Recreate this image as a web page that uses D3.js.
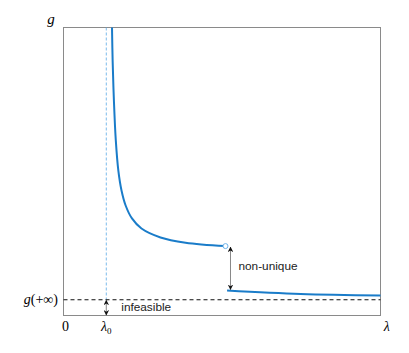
<!DOCTYPE html>
<html><head><meta charset="utf-8">
<script src="https://cdn.jsdelivr.net/npm/d3@7"></script>
<style>body{margin:0;background:#fff}svg{display:block}</style>
</head><body>
<script>
// Data (normalized units: x in [0,1] across plot, y in [0,1] up plot)
const branch1X = [0.153, 0.155, 0.159, 0.165, 0.173, 0.183, 0.196, 0.216, 0.246, 0.306, 0.385, 0.511];
const branch1Y = [1.000, 0.885, 0.747, 0.608, 0.503, 0.434, 0.382, 0.337, 0.302, 0.271, 0.253, 0.241];
const branch2X = [0.516, 0.748, 1.000];
const branch2Y = [0.0868, 0.0747, 0.0694];
const gInf = 0.0545;
const lambda0 = 0.135;
const xTickLabels = ["0", "λ0", "λ"];

const W = 409, H = 353;
const m = {left: 63.5, top: 27.5, right: 380.5, bottom: 315.5};
const x = d3.scaleLinear().domain([0, 1]).range([m.left, m.right]);
const y = d3.scaleLinear().domain([0, 1]).range([m.bottom, m.top]);

const svg = d3.select("body").append("svg").attr("width", W).attr("height", H);
const defs = svg.append("defs");
defs.append("marker").attr("id", "ah").attr("viewBox", "0 0 10 10")
  .attr("refX", 9).attr("refY", 5).attr("markerWidth", 5.5).attr("markerHeight", 5.5)
  .attr("orient", "auto-start-reverse").attr("markerUnits", "userSpaceOnUse")
  .append("path").attr("d", "M0,0 L10,5 L0,10 L3,5 Z").attr("fill", "#111");

// frame
svg.append("rect").attr("x", m.left).attr("y", m.top)
  .attr("width", m.right - m.left).attr("height", m.bottom - m.top)
  .attr("fill", "none").attr("stroke", "#8a8a8a").attr("stroke-width", 1);

// lambda0 vertical dashed
svg.append("line").attr("x1", x(lambda0)).attr("x2", x(lambda0))
  .attr("y1", y(1)).attr("y2", y(gInf))
  .attr("stroke", "#5aa9e6").attr("stroke-width", 0.8).attr("stroke-dasharray", "3,2");

// g(+inf) dashed
svg.append("line").attr("x1", x(0)).attr("x2", x(1))
  .attr("y1", y(gInf)).attr("y2", y(gInf))
  .attr("stroke", "#111").attr("stroke-width", 1.1).attr("stroke-dasharray", "4,3");

const curve = d3.line().x(d => x(d[0])).y(d => y(d[1])).curve(d3.curveCatmullRom.alpha(0.5));
const b1 = branch1X.map((v, i) => [v, branch1Y[i]]);
const b2 = branch2X.map((v, i) => [v, branch2Y[i]]);
svg.append("path").attr("d", curve(b1))
  .attr("fill", "none").attr("stroke", "#1a7cc9").attr("stroke-width", 2);
svg.append("path").attr("d", curve(b2))
  .attr("fill", "none").attr("stroke", "#1a7cc9").attr("stroke-width", 2);

// open circle at end of branch 1
const last = b1[b1.length - 1];
svg.append("circle").attr("cx", x(last[0])).attr("cy", y(last[1])).attr("r", 2.5)
  .attr("fill", "#fff").attr("stroke", "#6fb3ea").attr("stroke-width", 1);

// non-unique arrow
const ax = x(last[0]) + 5;
svg.append("line").attr("x1", ax).attr("x2", ax)
  .attr("y1", y(last[1]) + 1).attr("y2", y(branch2Y[0]) - 1)
  .attr("stroke", "#888").attr("stroke-width", 1)
  .attr("marker-start", "url(#ah)").attr("marker-end", "url(#ah)");
svg.append("text").attr("x", ax + 8).attr("y", (y(last[1]) + y(branch2Y[0])) / 2 + 2)
  .attr("font-family", "Liberation Sans, Arial, sans-serif").attr("font-size", 11.8)
  .attr("fill", "#222").text("non-unique");

// infeasible arrow
svg.append("line").attr("x1", x(lambda0)).attr("x2", x(lambda0))
  .attr("y1", y(gInf) + 0.5).attr("y2", y(0) - 0.5)
  .attr("stroke", "#888").attr("stroke-width", 1)
  .attr("marker-start", "url(#ah)").attr("marker-end", "url(#ah)");
svg.append("text").attr("x", x(lambda0) + 15).attr("y", 311)
  .attr("font-family", "Liberation Sans, Arial, sans-serif").attr("font-size", 11.8)
  .attr("fill", "#222").text("infeasible");

// math labels
const serif = "Liberation Serif, DejaVu Serif, serif";
svg.append("text").attr("x", 51).attr("y", 24).attr("font-family", serif)
  .attr("font-style", "italic").attr("font-size", 15).attr("text-anchor", "middle").text("g");
const gl = svg.append("text").attr("x", 58).attr("y", y(gInf) + 4).attr("font-family", serif)
  .attr("font-size", 14).attr("text-anchor", "end");
gl.append("tspan").attr("font-style", "italic").text("g");
gl.append("tspan").text("(+∞)");

// x tick labels
const tickPos = [0, lambda0, 1.02];
tickPos.forEach((p, i) => {
  const t = svg.append("text").attr("x", x(p) + (i === 0 ? 2 : 0)).attr("y", 331)
    .attr("font-family", serif).attr("font-size", 14).attr("text-anchor", "middle");
  const lab = xTickLabels[i];
  if (lab === "λ0") {
    t.append("tspan").attr("font-style", "italic").text("λ");
    t.append("tspan").attr("font-size", 9).attr("dy", 3).text("0");
  } else if (lab === "λ") {
    t.attr("font-style", "italic").text("λ");
  } else t.text(lab);
});
</script>
</body></html>
